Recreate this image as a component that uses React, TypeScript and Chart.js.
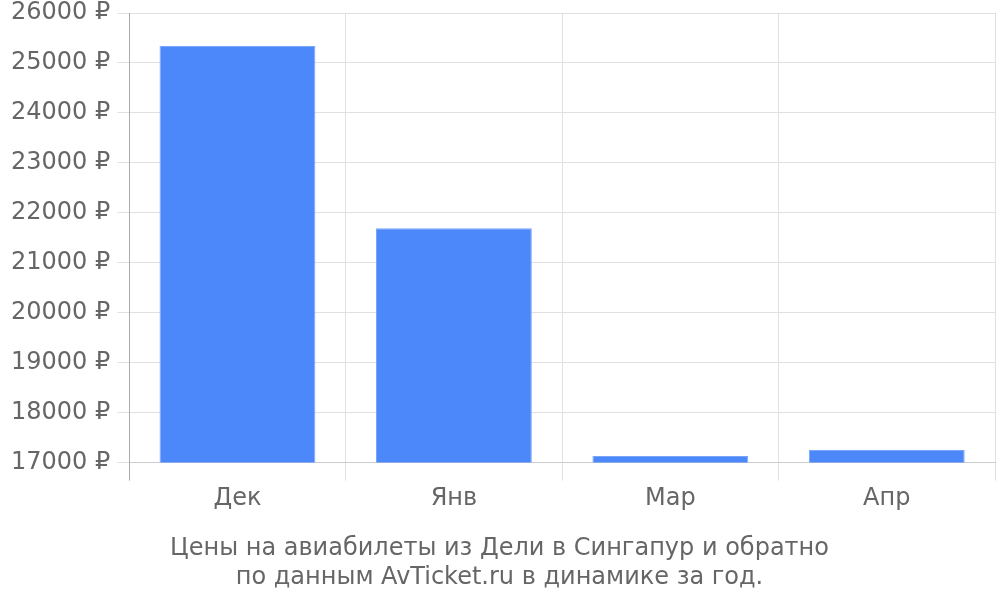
import React, { useEffect, useRef } from "react";
import { Chart, registerables } from "chart.js";

Chart.register(...registerables);

const categories = ["Дек", "Янв", "Мар", "Апр"];
const prices = [25340, 21690, 17130, 17250];
const titleLines = [
  "Цены на авиабилеты из Дели в Сингапур и обратно",
  "по данным AvTicket.ru в динамике за год.",
];

export default function App() {
  const ref = useRef<HTMLCanvasElement>(null);
  useEffect(() => {
    if (!ref.current) return;
    const font = "'DejaVu Sans', sans-serif";
    const chart = new Chart(ref.current, {
      type: "bar",
      data: {
        labels: categories,
        datasets: [
          {
            data: prices,
            backgroundColor: "#4d88fa",
            borderColor: "#79a6fb",
            borderWidth: 1,
            barPercentage: 0.9,
            categoryPercentage: 0.8,
          },
        ],
      },
      options: {
        animation: false,
        responsive: false,
        layout: { padding: { top: 0, right: 5, left: 4, bottom: 8 } },
        plugins: {
          legend: { display: false },
          tooltip: { enabled: false },
          title: {
            display: true,
            position: "bottom",
            text: titleLines,
            color: "#666666",
            font: { family: font, size: 24, weight: "normal" },
            padding: { top: 17, bottom: 0 },
            lineHeight: 1.2,
          },
        },
        scales: {
          x: {
            grid: {
              color: (ctx: any) => (ctx.index === 0 ? "#aaaaaa" : "#e0e0e0"),
              tickLength: 18,
              drawOnChartArea: true,
            },
            border: { color: "#cccccc" },
            ticks: { color: "#666666", font: { family: font, size: 24 }, padding: 4 },
          },
          y: {
            min: 17000,
            max: 26000,
            grid: { color: "#e0e0e0", tickLength: 12 },
            border: { color: "#aaaaaa" },
            ticks: {
              stepSize: 1000,
              color: "#666666",
              font: { family: font, size: 24, lineHeight: 1 },
              padding: 7,
              callback: (v: any) => v + " ₽",
            },
          },
        },
      },
    });
    return () => chart.destroy();
  }, []);
  return (
    <div style={{ position: "fixed", left: 0, top: -6, width: 1000, height: 606 }}>
      <canvas ref={ref} width={1000} height={606} style={{ display: "block" }} />
    </div>
  );
}
